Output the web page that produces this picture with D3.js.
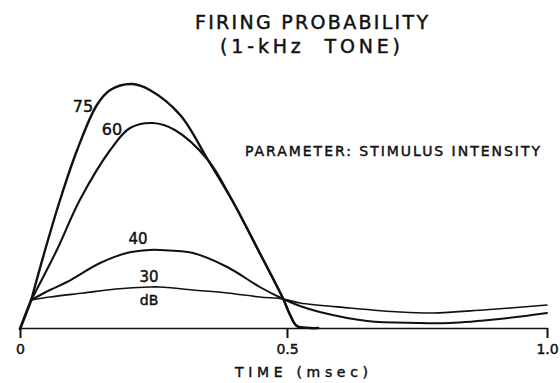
<!DOCTYPE html>
<html>
<head>
<meta charset="utf-8">
<script src="https://cdn.jsdelivr.net/npm/d3@7"></script>
<style>
    html, body { margin: 0; padding: 0; background: #fff; }
    #chart { width: 560px; height: 383px; }
    text { font-family: 'DejaVu Sans', sans-serif; fill: #111; stroke: #111; stroke-width: 0.45px; }
</style>
</head>
<body>
<div id="chart"></div>
<script>
//Datos (tiempo en msec, probabilidad en unidades relativas)
//Tramo inicial común a todas las curvas
const tiempoInicio = [0, 0.021];
const probInicio   = [0, 0.116];

const tiempo75 = [0.021, 0.047, 0.075, 0.107, 0.144, 0.169, 0.21, 0.243, 0.30, 0.352, 0.397, 0.446, 0.493, 0.506, 0.519, 0.545, 0.56];
const prob75   = [0.116, 0.316, 0.516, 0.716, 0.896, 0.956, 0.98, 0.956, 0.856, 0.676, 0.516, 0.316, 0.12, 0.056, 0.012, 0.004, 0.004];

const tiempo60 = [0.021, 0.069, 0.112, 0.169, 0.206, 0.249, 0.29, 0.352, 0.397, 0.446, 0.493, 0.506, 0.519, 0.545, 0.56];
const prob60   = [0.116, 0.316, 0.516, 0.716, 0.804, 0.824, 0.796, 0.676, 0.516, 0.316, 0.12, 0.056, 0.012, 0.004, 0.004];

const tiempo40 = [0.021, 0.056, 0.088, 0.15, 0.2, 0.243, 0.262, 0.324, 0.388, 0.449, 0.493, 0.525, 0.563, 0.654, 0.75, 0.813, 0.908, 1.0];
const prob40   = [0.116, 0.156, 0.188, 0.264, 0.304, 0.316, 0.316, 0.304, 0.248, 0.168, 0.12, 0.092, 0.068, 0.032, 0.024, 0.024, 0.04, 0.064];

const tiempo30 = [0.021, 0.056, 0.118, 0.18, 0.243, 0.262, 0.324, 0.388, 0.449, 0.493, 0.525, 0.621, 0.717, 0.781, 0.877, 1.0];
const prob30   = [0.116, 0.128, 0.144, 0.16, 0.168, 0.168, 0.156, 0.144, 0.128, 0.12, 0.104, 0.084, 0.068, 0.064, 0.076, 0.096];

const etiquetasCurvas = ['75', '60', '40', '30', 'dB'];
const ticksX = [0, 0.5, 1.0];
const tickLabels = ['0', '0.5', '1.0'];

const titulo = ['FIRING PROBABILITY', '(1-kHz  TONE)'];
const textoParametro = 'PARAMETER: STIMULUS INTENSITY';
const textoEjeX = 'TIME (msec)';

let svg = d3.select('#chart')
    .append('svg')
    .attr('width', 560)
    .attr('height', 383);

//Escalas (el eje dibujado a mano no es del todo lineal)
let x = d3.scaleLinear()
    .domain([0, 0.5, 1])
    .range([20, 287, 547]);

let y = d3.scaleLinear()
    .domain([0, 1])
    .range([329, 79]);

//Eje X
let xAxis = function(g) {
    g.call(d3.axisBottom(x)
        .tickValues(ticksX)
        .tickSize(10)
        .tickSizeOuter(0)
        .tickPadding(6)
        .tickFormat((d, i) => tickLabels[i]));
    g.select('.domain').attr('stroke', '#111').attr('stroke-width', 1.6);
    g.selectAll('.tick line').attr('stroke', '#111').attr('stroke-width', 2);
    g.selectAll('.tick text')
        .attr('font-size', 14)
        .attr('font-family', 'DejaVu Sans, sans-serif')
        .attr('fill', '#111');
}

svg.append('g')
    .attr('transform', 'translate(0,' + (y(0) - 1) + ')')
    .call(xAxis);

//Curvas
let line = d3.line()
    .x(d => x(d[0]))
    .y(d => y(d[1]))
    .curve(d3.curveCatmullRom.alpha(0.5));

let series = [
    { t: tiempoInicio, v: probInicio, w: 2.8 },
    { t: tiempo75, v: prob75, w: 2.4 },
    { t: tiempo60, v: prob60, w: 2.1 },
    { t: tiempo40, v: prob40, w: 2.0 },
    { t: tiempo30, v: prob30, w: 1.6 }
];

svg.append('g')
    .selectAll('path')
    .data(series)
    .enter()
    .append('path')
    .attr('d', d => line(d.t.map((t, i) => [t, d.v[i]])))
    .attr('fill', 'none')
    .attr('stroke', '#111')
    .attr('stroke-width', d => d.w)
    .attr('stroke-linejoin', 'round')
    .attr('stroke-linecap', 'round');

//Etiquetas de las curvas
let posEtiquetas = [
    { x: 83, y: 112, size: 16 },
    { x: 112, y: 135, size: 16 },
    { x: 138, y: 244, size: 15 },
    { x: 149, y: 282, size: 15 },
    { x: 149, y: 305, size: 14 }
];

svg.append('g')
    .selectAll('text')
    .data(etiquetasCurvas)
    .enter()
    .append('text')
    .attr('x', (d, i) => posEtiquetas[i].x)
    .attr('y', (d, i) => posEtiquetas[i].y)
    .attr('font-size', (d, i) => posEtiquetas[i].size)
    .attr('text-anchor', 'middle')
    .text(d => d);

//Título
svg.append('text')
    .attr('x', 195)
    .attr('y', 29)
    .attr('font-size', 19)
    .attr('textLength', 233)
    .attr('lengthAdjust', 'spacing')
    .text(titulo[0]);

svg.append('text')
    .attr('x', 220)
    .attr('y', 53)
    .attr('font-size', 19)
    .attr('textLength', 180)
    .attr('lengthAdjust', 'spacing')
    .style('white-space', 'pre')
    .text(titulo[1]);

//Parámetro
svg.append('text')
    .attr('x', 245)
    .attr('y', 156)
    .attr('font-size', 14)
    .attr('textLength', 295)
    .attr('lengthAdjust', 'spacing')
    .text(textoParametro);

//Título eje X
svg.append('text')
    .attr('x', 235)
    .attr('y', 377)
    .attr('font-size', 14)
    .attr('textLength', 133)
    .attr('lengthAdjust', 'spacing')
    .text(textoEjeX);
</script>
</body>
</html>
